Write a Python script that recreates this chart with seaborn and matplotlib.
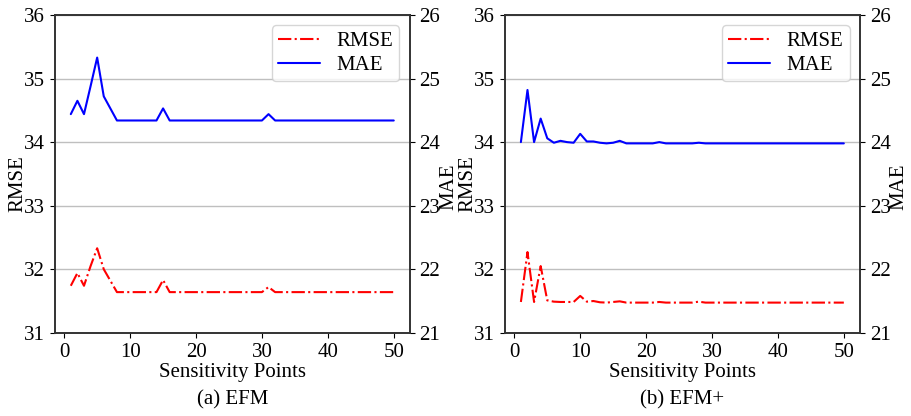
import numpy as np
import pandas as pd
import seaborn as sns
import matplotlib.pyplot as plt

sns.set_style('ticks')
plt.rcParams['font.family'] = ['Liberation Serif', 'DejaVu Serif']
plt.rcParams['font.size'] = 15
plt.rcParams['text.color'] = 'black'
plt.rcParams['axes.labelcolor'] = 'black'
plt.rcParams['xtick.color'] = 'black'
plt.rcParams['ytick.color'] = 'black'

# titik sensitivitas 1..50
points = list(range(1, 51))

# EFM
efm_rmse = [31.74, 31.94, 31.74, 32.05, 32.33, 32.00, 31.82] + [31.64] * 7 + [31.83] \
    + [31.64] * 15 + [31.72] + [31.64] * 19
efm_mae = [24.44, 24.65, 24.44, 24.88, 25.33, 24.72, 24.53] + [24.34] * 7 + [24.53] \
    + [24.34] * 15 + [24.44] + [24.34] * 19

# EFM+
efmp_rmse = [31.485, 32.27, 31.485, 32.05, 31.51, 31.49, 31.485, 31.485, 31.485, 31.58,
             31.49, 31.50, 31.48, 31.475, 31.485, 31.495] + [31.475] * 5 + [31.485] \
    + [31.475] * 5 + [31.49] + [31.475] * 22
efmp_mae = [24.00, 24.82, 24.00, 24.37, 24.06, 23.99, 24.02, 24.00, 23.99, 24.13,
            24.01, 24.01, 23.99, 23.98, 23.99, 24.02] + [23.98] * 5 + [24.00] \
    + [23.98] * 5 + [23.99] + [23.98] * 22

panels = [('(a) EFM', efm_rmse, efm_mae), ('(b) EFM+', efmp_rmse, efmp_mae)]

fig, axes = plt.subplots(1, 2, figsize=(9.11, 4.16), dpi=100)
plt.subplots_adjust(left=0.06, right=0.944, bottom=0.2, top=0.964, wspace=0.267)

for ax, (title, rmse, mae) in zip(axes, panels):
    df = pd.DataFrame({'x': points, 'RMSE': rmse, 'MAE': mae})
    ax2 = ax.twinx()
    sns.lineplot(data=df, x='x', y='RMSE', ax=ax, color='red', linestyle='-.',
                 linewidth=1.5, legend=False)
    sns.lineplot(data=df, x='x', y='MAE', ax=ax2, color='blue', linestyle='-',
                 linewidth=1.5, legend=False)

    ax.set_ylim(31, 36)
    ax2.set_ylim(21, 26)
    ax.set_yticks([31, 32, 33, 34, 35, 36])
    ax2.set_yticks([21, 22, 23, 24, 25, 26])
    ax.set_xticks([0, 10, 20, 30, 40, 50])
    ax.yaxis.grid(True, color='0.75', linewidth=1)
    ax.set_axisbelow(True)

    ax.set_xlabel('Sensitivity Points', labelpad=1)
    ax.set_ylabel('RMSE')
    ax2.set_ylabel('MAE')
    # label sengaja ditempel dekat tick label seperti gambar asli
    ax.yaxis.set_label_coords(-0.076, 0.47)
    ax2.yaxis.set_label_coords(1.083, 0.46)
    ax.text(0.5, -0.212, title, transform=ax.transAxes, ha='center', va='center')

    for a in (ax, ax2):
        for s in a.spines.values():
            s.set_visible(True)
            s.set_color('0.2')
            s.set_linewidth(1.2)

    h1, l1 = ax.get_lines()[0], 'RMSE'
    h2, l2 = ax2.get_lines()[0], 'MAE'
    ax2.legend([h1, h2], [l1, l2], loc='upper right', frameon=True,
               edgecolor='0.8', fancybox=True, handlelength=2, fontsize=15,
               borderpad=0.3, labelspacing=0.2)

plt.savefig('out.png', dpi=100)
